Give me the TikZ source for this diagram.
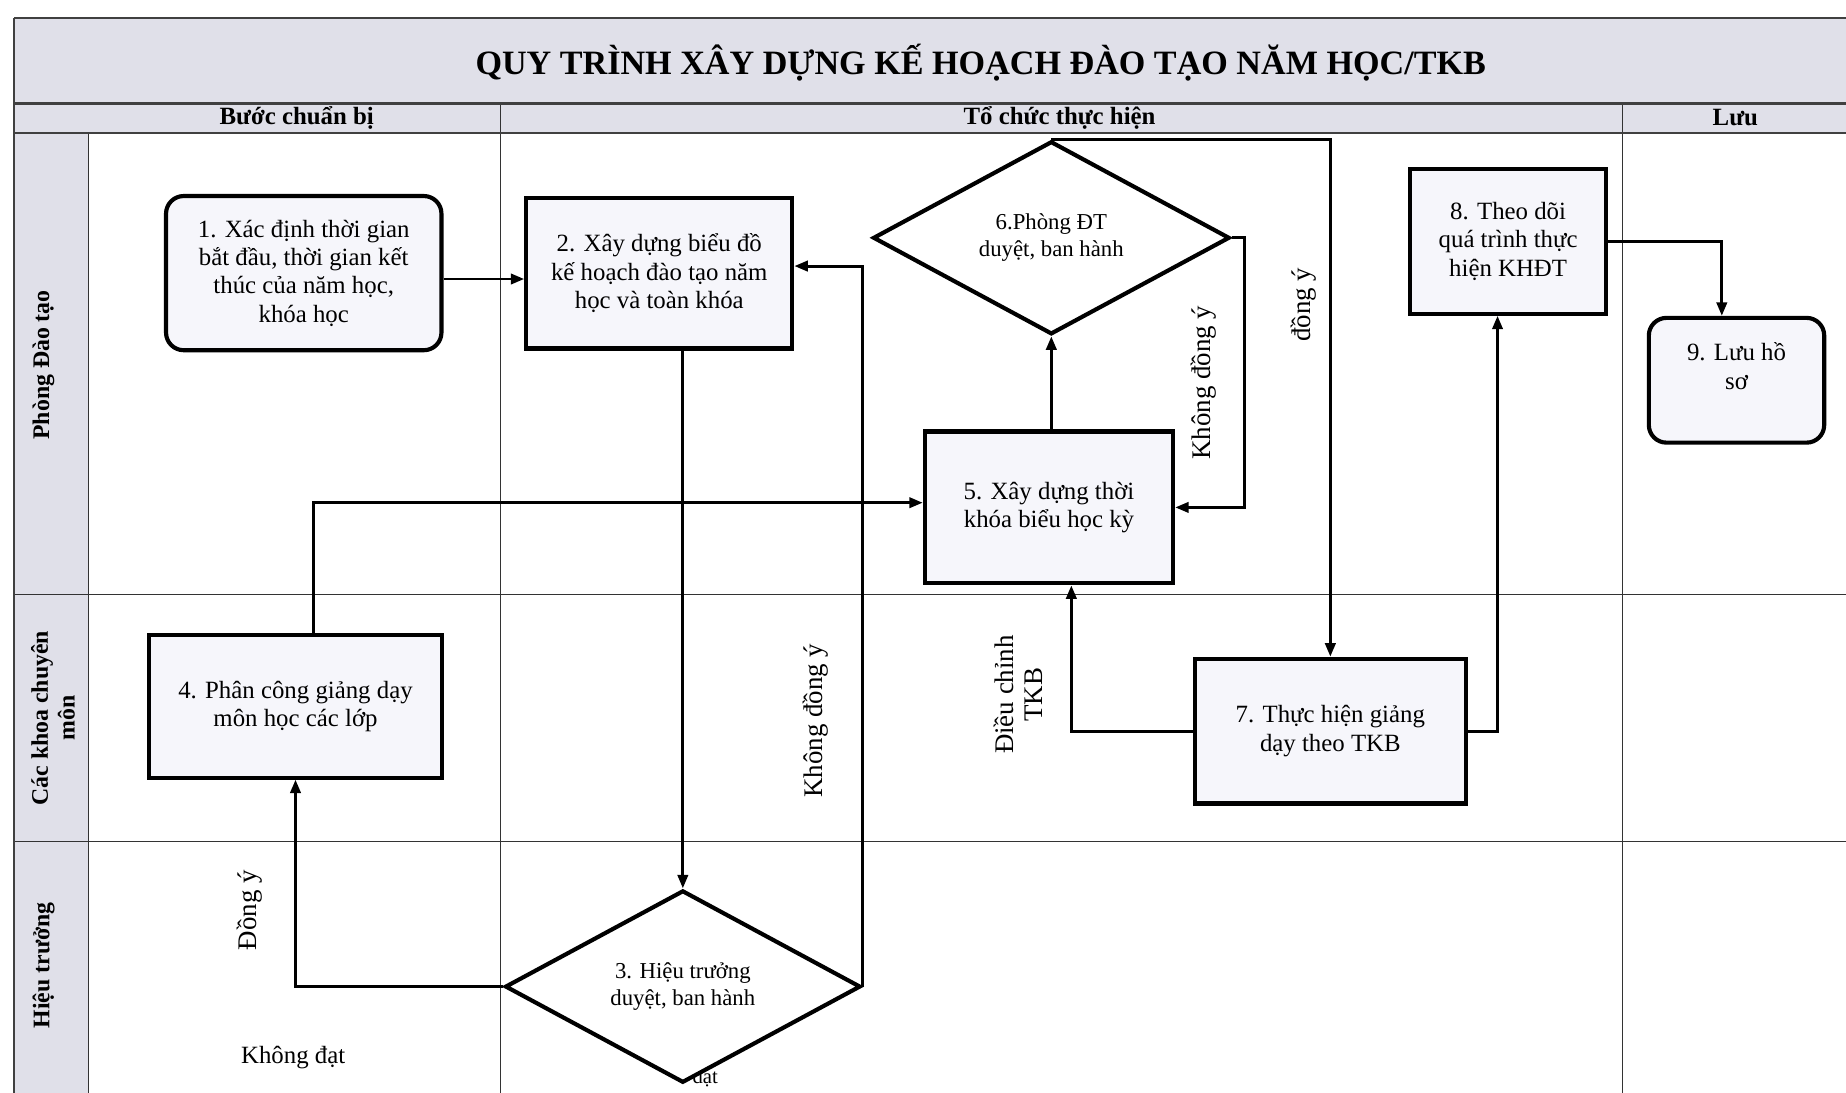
\documentclass[tikz,border=0pt]{standalone}
\usepackage{fontspec}
\setmainfont{Liberation Serif}
\usepackage{xcolor}
\usepackage{tikz}
\usetikzlibrary{arrows.meta, positioning, calc, shapes.geometric}

\definecolor{bandgray}{RGB}{224,224,233}
\definecolor{boxfill}{RGB}{246,246,251}

\begin{document}
\begin{tikzpicture}[
    x=0.02cm, y=-0.02cm,
    >={Triangle[length=6.5pt,width=5pt]},
    stepbox/.style={rectangle, draw=black, line width=2pt, fill=boxfill, align=center,
        inner sep=2pt, font=\fontsize{12}{13.7}\selectfont},
    roundbox/.style={stepbox, rounded corners=0.3cm},
    decide/.style={diamond, draw=black, line width=2pt, fill=white, align=center,
        inner sep=0pt, font=\fontsize{11}{13}\selectfont},
    lanelbl/.style={rotate=90, align=center, font=\fontsize{11.5}{13}\selectfont\bfseries},
    headlbl/.style={font=\fontsize{12}{14}\selectfont\bfseries},
    edgelbl/.style={rotate=90, align=center, font=\fontsize{13}{14}\selectfont},
    arr/.style={->, line width=1.4pt},
    gridline/.style={line width=0.6pt, draw=black!80},
    frameline/.style={line width=1.1pt, draw=black!75},
]
\useasboundingbox (0,0) rectangle (1568,928);
\fill[white] (0,0) rectangle (1568,928);
\fill[bandgray] (12,15) rectangle (1568,113);
\fill[bandgray] (12,113) rectangle (75,928);

\draw[gridline] (75,113) -- (75,928);
\draw[gridline] (425,88) -- (425,928);
\draw[gridline] (1378,88) -- (1378,928);
\draw[gridline] (12,505) -- (1568,505);
\draw[gridline] (12,715) -- (1568,715);
\draw[frameline] (12,15) -- (1568,15);
\draw[frameline] (12,88) -- (1568,88);
\draw[frameline] (12,113) -- (1568,113);
\draw[frameline] (12,15) -- (12,928);

\node[font=\fontsize{16.5}{18}\selectfont\bfseries] (title) at (833,53) {QUY TRÌNH XÂY DỰNG KẾ HOẠCH ĐÀO TẠO NĂM HỌC/TKB};
\node[headlbl] (hprep) at (252,100) {Bước chuẩn bị};
\node[headlbl] (hrun) at (900,100) {Tổ chức thực hiện};
\node[headlbl] (hkeep) at (1474,100) {Lưu};

\node[lanelbl] (lpdt) at (37,310) {Phòng Đào tạo};
\node[lanelbl] (lkhoa) at (45,610) {Các khoa chuyên\\môn};
\node[lanelbl] (lht) at (37,820) {Hiệu trưởng};

\node[edgelbl] (lbl3no) at (693,612) {Không đồng ý};
\node[edgelbl] (lbl3yes) at (212,773) {Đồng ý};
\node[font=\fontsize{12}{14}\selectfont] (lblfail) at (249,898) {Không đạt};
\node[font=\fontsize{10}{11}\selectfont] (lblfail2) at (599,916) {đạt};
\node[edgelbl] (lbl6no) at (1022,325) {Không đồng ý};
\node[edgelbl] (lbl6yes) at (1107,259) {đồng ý};
\node[edgelbl] (lbl7) at (865,590) {Điều chỉnh\\TKB};

\node[roundbox, minimum width=4.68cm, minimum height=2.62cm] (n1) at (258,232) {1. Xác định thời gian\\bắt đầu, thời gian kết\\thúc của năm học,\\khóa học};
\node[stepbox, minimum width=4.52cm, minimum height=2.56cm] (n2) at (560,232) {2. Xây dựng biểu đồ\\kế hoạch đào tạo năm\\học và toàn khóa};
\node[decide, minimum width=6.04cm, minimum height=3.22cm] (n3) at (580,838) {3. Hiệu trưởng\\duyệt, ban hành};
\node[stepbox, minimum width=4.98cm, minimum height=2.42cm] (n4) at (251,600) {4. Phân công giảng dạy\\môn học các lớp};
\node[stepbox, minimum width=4.22cm, minimum height=2.58cm] (n5) at (891,431) {5. Xây dựng thời\\khóa biểu học kỳ};
\node[decide, minimum width=6.06cm, minimum height=3.28cm] (n6) at (893,202) {6.Phòng ĐT\\duyệt, ban hành};
\node[stepbox, minimum width=4.6cm, minimum height=2.46cm] (n7) at (1130,621) {7. Thực hiện giảng\\dạy theo TKB};
\node[stepbox, minimum width=3.34cm, minimum height=2.46cm] (n8) at (1281,205) {8. Theo dõi\\quá trình thực\\hiện KHĐT};
\node[roundbox, minimum width=2.98cm, minimum height=2.12cm] (n9) at (1475,323) {9. Lưu hồ\\sơ\\\mbox{}};

\draw[arr] ($(n1.east)+(0,5)$) -- ($(n1.east -| n2.west)+(0,5)$);
\draw[arr] (n2.south -| n3.north) -- (n3.north);
\draw[arr] (n3.east) |- ([yshift=0.12cm]n2.east);
\draw[arr] (n3.west) -| (n4.south);
\draw[arr] ([xshift=0.3cm]n4.north) |- ([yshift=0.08cm]n5.west);
\draw[arr] (n5.north -| n6.south) -- (n6.south);
\draw[arr] (n6.east) -- ++(0.22cm,0) |- (n5.east);
\draw[arr] (n6.north) -| (n7.north);
\draw[arr] (n7.west) -| ([xshift=0.38cm]n5.south);
\draw[arr] (n7.east) -| ([xshift=-0.18cm]n8.south);
\draw[arr] (n8.east) -| ([xshift=-0.25cm]n9.north);
\end{tikzpicture}
\end{document}
